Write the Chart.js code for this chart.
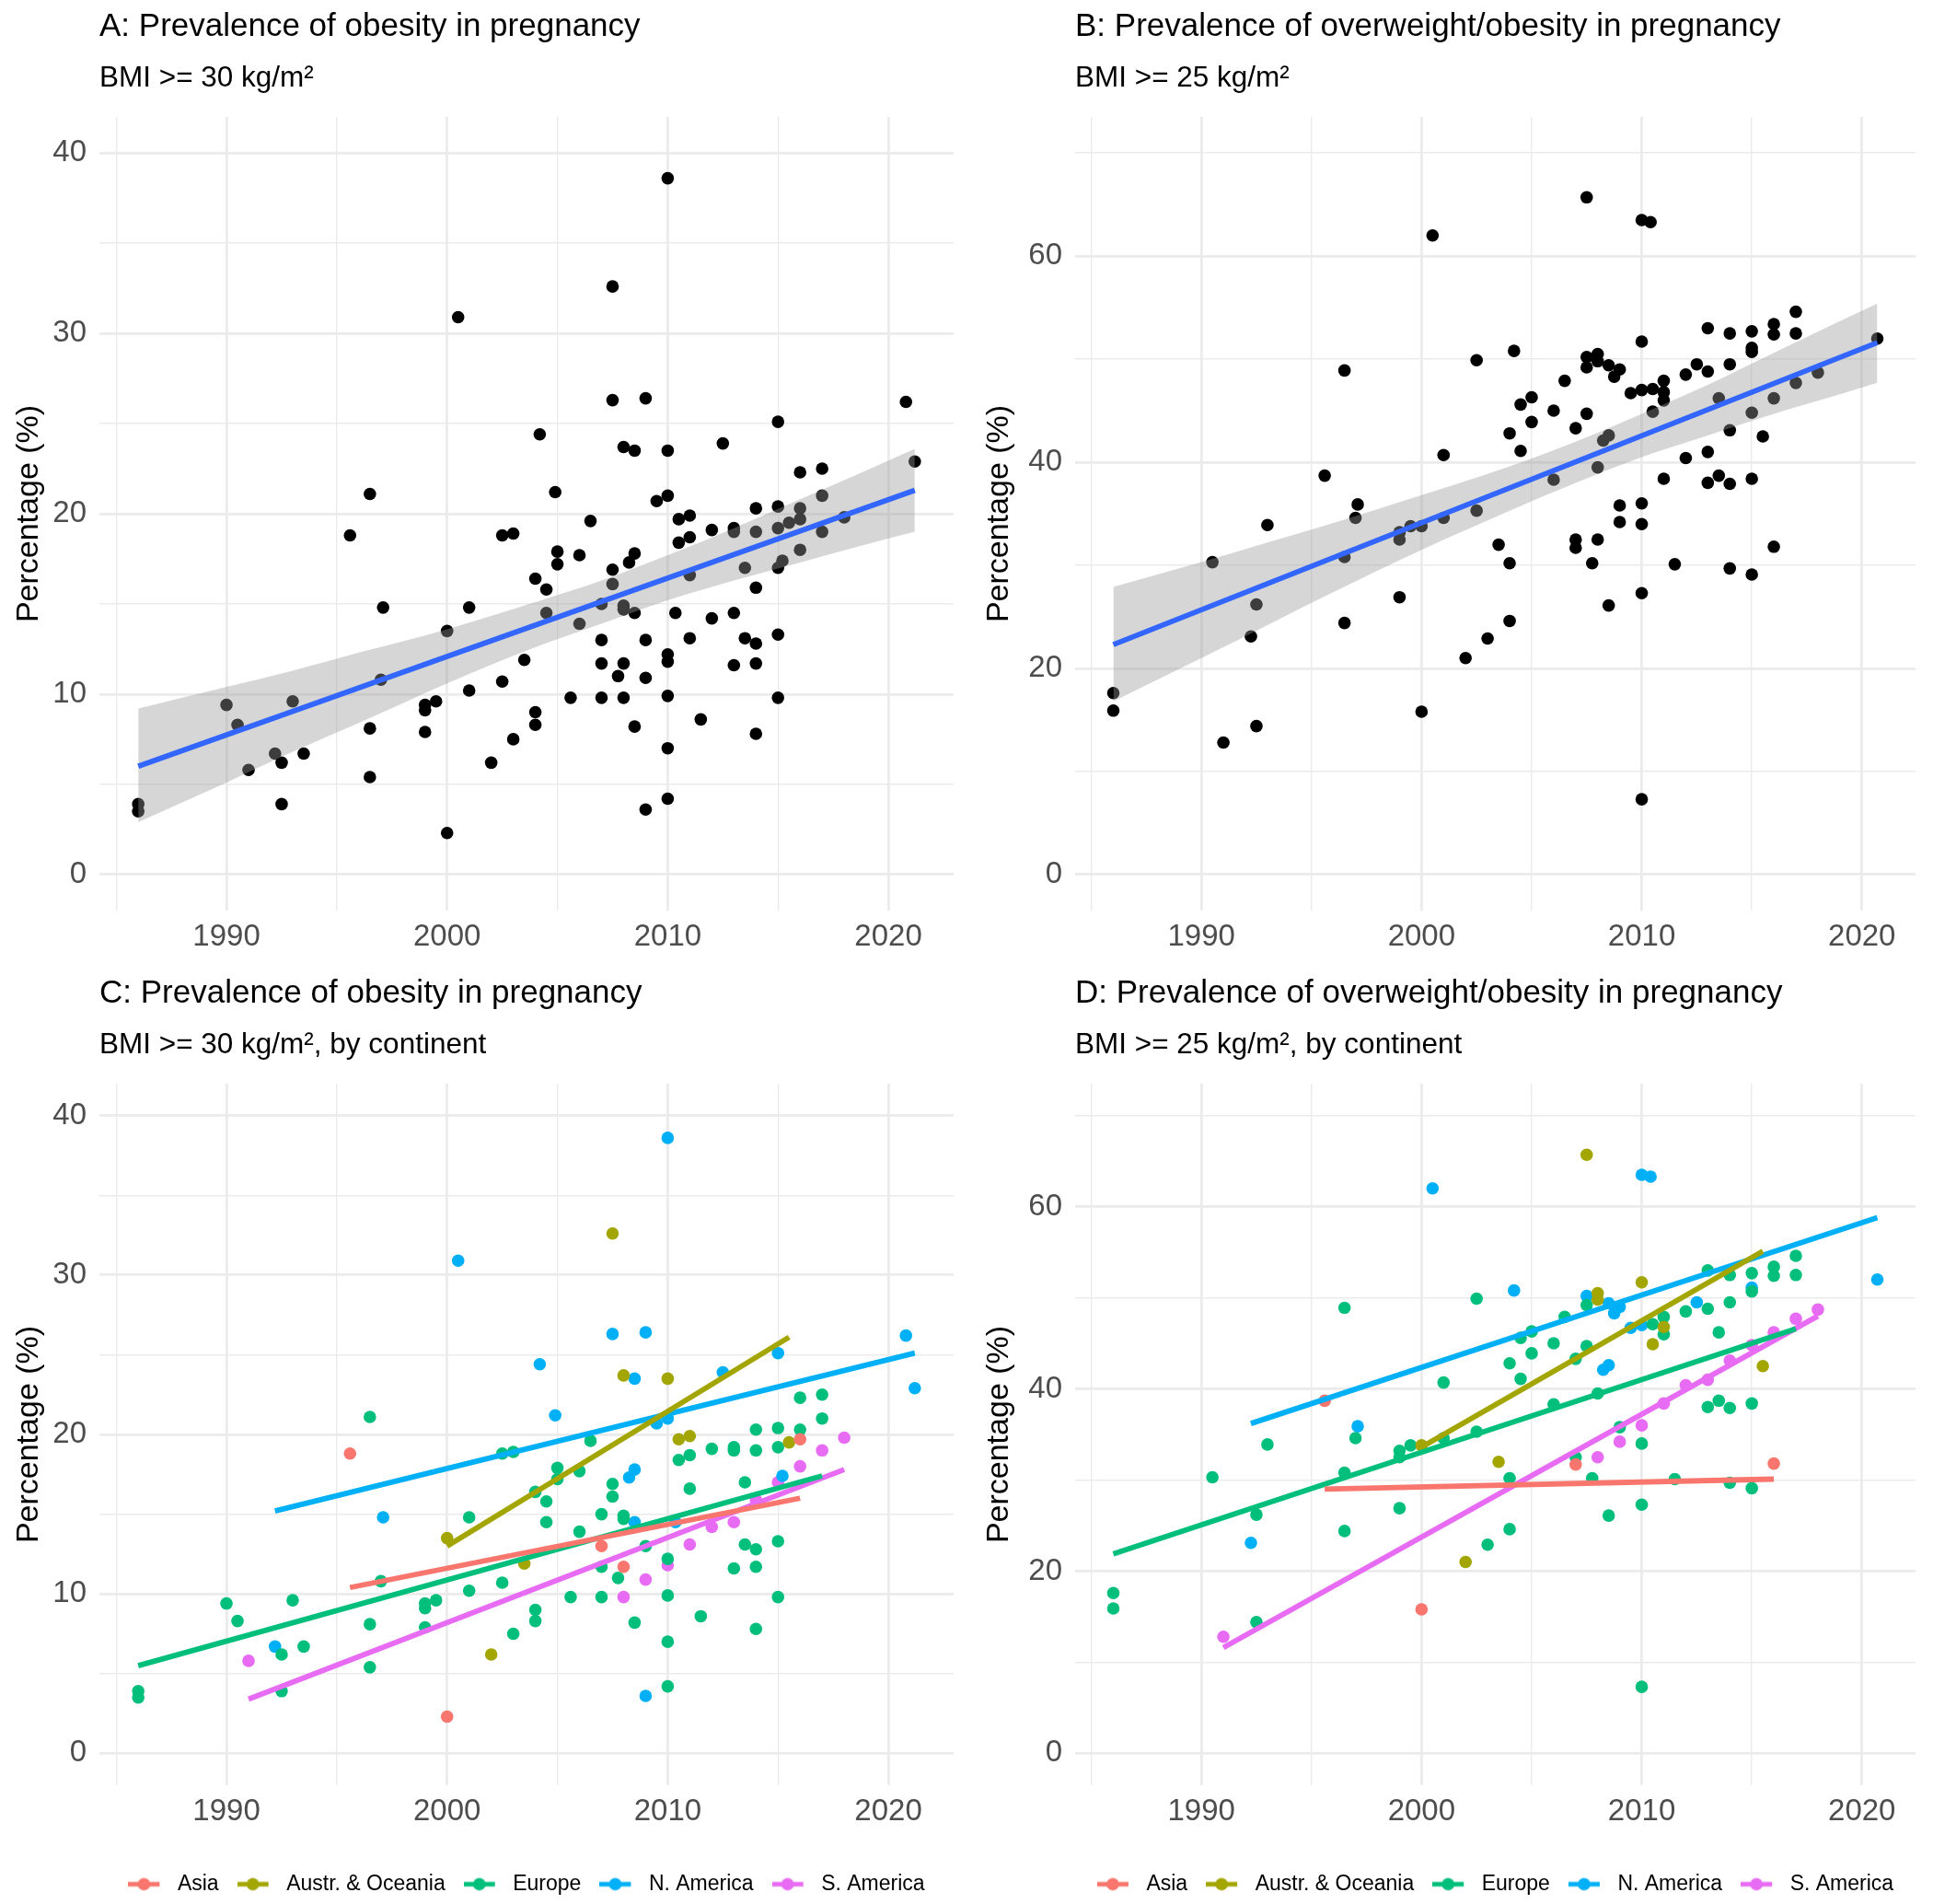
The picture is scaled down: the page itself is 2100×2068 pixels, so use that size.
<!DOCTYPE html>
<html>
<head>
<meta charset="utf-8">
<title>Prevalence of obesity and overweight in pregnancy</title>
<script src="https://cdn.jsdelivr.net/npm/chart.js@4.4.1/dist/chart.umd.min.js"></script>
<style>
  html, body { margin: 0; padding: 0; background: #fff; }
  body { width: 2100px; height: 2068px; position: relative; overflow: hidden; }
  canvas { position: absolute; }
</style>
</head>
<body>
<canvas id="chartA" width="1050" height="1040" style="left:0;top:0"></canvas>
<canvas id="chartB" width="1050" height="1040" style="left:1050px;top:0"></canvas>
<canvas id="chartC" width="1050" height="1028" style="left:0;top:1040px"></canvas>
<canvas id="chartD" width="1050" height="1028" style="left:1050px;top:1040px"></canvas>
<script>
const continents = ["Asia", "Austr. & Oceania", "Europe", "N. America", "S. America"];
const continentColors = ["#F8766D", "#A3A500", "#00BF7D", "#00B0F6", "#E76BF3"];

const xTicks = [1985, 1990, 1995, 2000, 2005, 2010, 2015, 2020];
const obYTicks = [0, 5, 10, 15, 20, 25, 30, 35, 40];
const owYTicks = [0, 10, 20, 30, 40, 50, 60, 70];

// obesity (BMI >= 30), one pair of arrays per continent
const obYearAsia = [1995.6, 2000, 2007, 2008, 2016];
const obPctAsia = [18.8, 2.3, 13.0, 11.7, 19.7];
const obYearOce = [2000, 2002, 2003.5, 2007.5, 2008, 2010, 2010.5, 2011, 2015.5];
const obPctOce = [13.5, 6.2, 11.9, 32.6, 23.7, 23.5, 19.7, 19.9, 19.5];
const obYearEur = [1986, 1986, 1990, 1990.5, 1992.5, 1992.5, 1993, 1993.5, 1996.5, 1996.5, 1996.5, 1997,
  1999, 1999, 1999, 1999.5, 2001, 2001, 2002.5, 2002.5, 2003, 2003, 2004, 2004, 2004, 2004.5, 2004.5,
  2005, 2005, 2005.6, 2006, 2006, 2006.5, 2007, 2007, 2007, 2007.5, 2007.5, 2007.75, 2008, 2008, 2008.5,
  2009, 2010, 2010, 2010, 2010, 2010.5, 2011, 2011, 2011.5, 2012, 2013, 2013, 2013, 2013.5, 2013.5,
  2014, 2014, 2014, 2014, 2014, 2015, 2015, 2015, 2015, 2016, 2016, 2017, 2017];
const obPctEur = [3.9, 3.5, 9.4, 8.3, 6.2, 3.9, 9.6, 6.7, 21.1, 8.1, 5.4, 10.8,
  9.4, 9.1, 7.9, 9.6, 14.8, 10.2, 18.8, 10.7, 18.9, 7.5, 16.4, 9.0, 8.3, 15.8, 14.5,
  17.9, 17.2, 9.8, 17.7, 13.9, 19.6, 15.0, 11.7, 9.8, 16.9, 16.1, 11.0, 14.9, 14.7, 8.2,
  13.0, 12.2, 9.9, 7.0, 4.2, 18.4, 18.7, 16.6, 8.6, 19.1, 19.2, 19.0, 11.6, 17.0, 13.1,
  20.3, 19.0, 12.8, 11.7, 7.8, 20.4, 19.2, 13.3, 9.8, 22.3, 20.3, 22.5, 21.0];
const obYearNam = [1992.2, 1997.1, 2000.5, 2004.2, 2004.9, 2007.5, 2008.25, 2008.5, 2008.5, 2008.5, 2009,
  2009, 2009.5, 2010, 2010, 2010.35, 2012.5, 2015, 2015.2, 2020.8, 2021.2];
const obPctNam = [6.7, 14.8, 30.9, 24.4, 21.2, 26.3, 17.3, 23.5, 17.8, 14.5, 26.4,
  3.6, 20.7, 38.6, 21.0, 14.5, 23.9, 25.1, 17.4, 26.2, 22.9];
const obYearSam = [1991, 2008, 2009, 2010, 2011, 2012, 2013, 2014, 2015, 2016, 2017, 2018];
const obPctSam = [5.8, 9.8, 10.9, 11.8, 13.1, 14.2, 14.5, 15.9, 17.0, 18.0, 19.0, 19.8];

// overweight/obesity (BMI >= 25)
const owYearAsia = [1995.6, 2000, 2007, 2016];
const owPctAsia = [38.7, 15.8, 31.7, 31.8];
const owYearOce = [2000, 2002, 2003.5, 2007.5, 2008, 2008, 2010, 2010.5, 2011, 2015.5];
const owPctOce = [33.8, 21.0, 32.0, 65.7, 50.5, 49.8, 51.7, 44.9, 46.8, 42.5];
const owYearEur = [1986, 1986, 1990.5, 1992.5, 1992.5, 1993, 1996.5, 1996.5, 1996.5, 1997,
  1999, 1999, 1999, 1999.5, 2001, 2001, 2002.5, 2002.5, 2003, 2004, 2004, 2004, 2004.5, 2004.5,
  2005, 2005, 2006, 2006, 2006.5, 2007, 2007, 2007.5, 2007.5, 2007.75, 2008, 2008.5, 2009,
  2010, 2010, 2010, 2010.5, 2011, 2011, 2011.5, 2012, 2013, 2013, 2013, 2013.5, 2013.5,
  2014, 2014, 2014, 2014, 2015, 2015, 2015, 2015, 2016, 2016, 2017, 2017];
const owPctEur = [17.6, 15.9, 30.3, 26.2, 14.4, 33.9, 48.9, 30.8, 24.4, 34.6,
  33.2, 32.5, 26.9, 33.8, 40.7, 34.6, 49.9, 35.3, 22.9, 42.8, 30.2, 24.6, 45.6, 41.1,
  46.3, 43.9, 45.0, 38.3, 47.9, 43.3, 32.5, 49.2, 44.7, 30.2, 39.5, 26.1, 35.8,
  34.0, 27.3, 7.3, 47.1, 47.9, 46.0, 30.1, 48.5, 53.0, 48.8, 38.0, 46.2, 38.7,
  52.5, 49.5, 37.9, 29.7, 52.7, 50.7, 38.4, 29.1, 53.4, 52.4, 54.6, 52.5];
const owYearNam = [1992.25, 1997.1, 2000.5, 2004.2, 2007.5, 2008.25, 2008.5, 2008.5, 2008.75, 2009,
  2009.5, 2010, 2010, 2010.4, 2012.5, 2015, 2020.7];
const owPctNam = [23.1, 35.9, 62.0, 50.8, 50.2, 42.1, 42.6, 49.4, 48.3, 49.0,
  46.7, 63.5, 47.0, 63.3, 49.5, 51.1, 52.0];
const owYearSam = [1991, 2008, 2009, 2010, 2011, 2012, 2013, 2014, 2015, 2016, 2017, 2018];
const owPctSam = [12.8, 32.5, 34.2, 36.0, 38.4, 40.4, 41.0, 43.1, 44.8, 46.2, 47.7, 48.7];

const fitYearA = [1986, 2021.2];
const fitPctA = [6.0, 21.3];
const bandYearA = [1986, 1988, 1990, 1993, 1996, 2000, 2004, 2007, 2010, 2013, 2016, 2019, 2021.2];
const bandLowA = [2.9, 4.0, 5.1, 6.8, 8.4, 10.6, 12.6, 13.9, 15.2, 16.3, 17.3, 18.3, 19.0];
const bandHighA = [9.2, 9.8, 10.4, 11.3, 12.3, 13.6, 15.1, 16.3, 17.7, 19.2, 20.8, 22.4, 23.6];
const fitYearB = [1986, 2020.7];
const fitPctB = [22.3, 51.6];
const bandYearB = [1986, 1988, 1990, 1993, 1996, 2000, 2004, 2007, 2010, 2013, 2016, 2019, 2020.7];
const bandLowB = [16.8, 18.9, 21.0, 24.2, 27.4, 31.5, 35.3, 38.0, 40.5, 42.6, 44.7, 46.6, 47.7];
const bandHighB = [27.9, 29.1, 30.3, 32.2, 34.1, 36.8, 39.6, 42.0, 44.7, 47.5, 50.6, 53.7, 55.4];

const obFitStartYear = [1995.6, 2000, 1986, 1992.2, 1991];
const obFitStartPct = [10.4, 13.0, 5.5, 15.2, 3.4];
const obFitEndYear = [2016, 2015.5, 2017, 2021.2, 2018];
const obFitEndPct = [16.0, 26.1, 17.4, 25.1, 17.8];
const owFitStartYear = [1995.6, 2000, 1986, 1992.25, 1991];
const owFitStartPct = [29.0, 33.6, 21.9, 36.2, 11.6];
const owFitEndYear = [2016, 2015.5, 2017, 2020.7, 2018];
const owFitEndPct = [30.1, 55.1, 46.6, 58.8, 48.0];

const obYears = [obYearAsia, obYearOce, obYearEur, obYearNam, obYearSam];
const obPcts = [obPctAsia, obPctOce, obPctEur, obPctNam, obPctSam];
const owYears = [owYearAsia, owYearOce, owYearEur, owYearNam, owYearSam];
const owPcts = [owPctAsia, owPctOce, owPctEur, owPctNam, owPctSam];

const FONT = "'Liberation Sans', Arial, Helvetica, sans-serif";
const LEGEND_FONT = 23;
const LEGEND_PAD = 20;
const LEGEND_H = LEGEND_FONT + LEGEND_PAD + 10; // what Chart.js gives a one-row legend
const POINT_R = 6.8;
const FIT_W = 5.8;

function toPoints(xs, ys) {
  return xs.map((x, i) => ({ x: x, y: ys[i] }));
}

function paddedRange(values) {
  const lo = Math.min(...values), hi = Math.max(...values);
  const pad = (hi - lo) * 0.05;
  return [lo - pad, hi + pad];
}

// legend key: line with a dot, like the ggplot key
function legendKey(color) {
  const c = document.createElement("canvas");
  c.width = 42; c.height = 20;
  const g = c.getContext("2d");
  g.strokeStyle = color;
  g.lineWidth = 5;
  g.beginPath(); g.moveTo(0, 10); g.lineTo(34, 10); g.stroke();
  g.fillStyle = color;
  g.beginPath(); g.arc(17, 10, 6.8, 0, Math.PI * 2); g.fill();
  return c;
}

function makePanel(id, cfg) {
  const W = 1050, H = cfg.height, area = cfg.area;
  const allYears = [].concat(...cfg.years);
  const xr = paddedRange(allYears);
  const yr = paddedRange(cfg.yTicks);
  const major = cfg.yMajor;

  const legend = cfg.legend ? {
    display: true,
    position: "bottom",
    fullSize: false,
    align: "center",
    labels: {
      usePointStyle: true,
      pointStyleWidth: 42,
      padding: LEGEND_PAD,
      color: "#000",
      font: { family: FONT, size: LEGEND_FONT },
      generateLabels: () => continents.map((name, i) => ({
        text: name,
        pointStyle: legendKey(continentColors[i]),
        fillStyle: continentColors[i],
        strokeStyle: continentColors[i],
        lineWidth: 0,
        hidden: false,
        fontColor: "#000",
        datasetIndex: i
      }))
    }
  } : { display: false };

  new Chart(document.getElementById(id), {
    type: "scatter",
    data: { datasets: cfg.datasets },
    options: {
      responsive: false,
      devicePixelRatio: 1,
      animation: false,
      events: [],
      layout: { padding: { left: 0, right: W - area.right, top: area.top - 127, bottom: 0 } },
      plugins: {
        title: {
          display: true, text: cfg.title, align: "start", fullSize: false, color: "#000",
          font: { family: FONT, size: 35, weight: "normal", lineHeight: 1.2 },
          padding: { top: 8.6, bottom: 16.3 }
        },
        subtitle: {
          display: true, text: cfg.subtitle, align: "start", fullSize: false, color: "#000",
          font: { family: FONT, size: 31.5, weight: "normal", lineHeight: 1.2 },
          padding: { top: 0, bottom: 22.3 }
        },
        legend: legend,
        tooltip: { enabled: false }
      },
      scales: {
        x: {
          type: "linear",
          min: xr[0], max: xr[1],
          afterBuildTicks: axis => { axis.ticks = xTicks.map(v => ({ value: v })); },
          afterFit: s => { s.height = H - area.bottom - (cfg.legend ? LEGEND_H : 0); },
          border: { display: false },
          grid: {
            color: "#EBEBEB",
            drawTicks: false,
            lineWidth: c => (c.tick && c.tick.value % 10 === 0) ? 2.8 : 1.4
          },
          ticks: {
            autoSkip: false, maxRotation: 0, minRotation: 0, padding: 9,
            color: "#4D4D4D",
            font: { family: FONT, size: 33 },
            callback: v => (v % 10 === 0 ? String(v) : "")
          }
        },
        y: {
          type: "linear",
          min: yr[0], max: yr[1],
          afterBuildTicks: axis => { axis.ticks = cfg.yTicks.map(v => ({ value: v })); },
          afterFit: s => { s.width = area.left; },
          border: { display: false },
          grid: {
            color: "#EBEBEB",
            drawTicks: false,
            lineWidth: c => (c.tick && c.tick.value % major === 0) ? 2.8 : 1.4
          },
          ticks: {
            autoSkip: false, padding: 14,
            color: "#4D4D4D",
            font: { family: FONT, size: 33 },
            callback: v => (v % major === 0 ? String(v) : "")
          },
          title: {
            display: true, text: "Percentage (%)", color: "#000",
            font: { family: FONT, size: 34 },
            padding: { top: cfg.yTitleX - 20.4, bottom: 0 }
          }
        }
      }
    }
  });
}

function overallDatasets(years, pcts, fitX, fitY, bandX, bandLow, bandHigh) {
  return [
    {
      label: "studies",
      data: toPoints([].concat(...years), [].concat(...pcts)),
      backgroundColor: "#000", pointRadius: POINT_R, borderWidth: 0, order: 3
    },
    {
      type: "line", label: "upper",
      data: toPoints(bandX, bandHigh),
      borderColor: "transparent", pointRadius: 0, fill: false,
      cubicInterpolationMode: "monotone", order: 2
    },
    {
      type: "line", label: "lower",
      data: toPoints(bandX, bandLow),
      borderColor: "transparent", pointRadius: 0,
      fill: "-1", backgroundColor: "rgba(153,153,153,0.4)",
      cubicInterpolationMode: "monotone", order: 2
    },
    {
      type: "line", label: "fit",
      data: toPoints(fitX, fitY),
      borderColor: "#3366FF", borderWidth: FIT_W, pointRadius: 0, fill: false, order: 1
    }
  ];
}

function continentDatasets(years, pcts, x0, y0, x1, y1) {
  const pts = continents.map((name, i) => ({
    label: name,
    data: toPoints(years[i], pcts[i]),
    backgroundColor: continentColors[i], pointRadius: POINT_R, borderWidth: 0, order: 2
  }));
  const lines = continents.map((name, i) => ({
    type: "line", label: name + " fit",
    data: toPoints([x0[i], x1[i]], [y0[i], y1[i]]),
    borderColor: continentColors[i], borderWidth: FIT_W, pointRadius: 0, fill: false, order: 1
  }));
  return pts.concat(lines);
}

makePanel("chartA", {
  height: 1040,
  area: { left: 108, right: 1036, top: 127, bottom: 989 },
  yTitleX: 32,
  title: "A: Prevalence of obesity in pregnancy",
  subtitle: "BMI >= 30 kg/m\u00B2",
  years: obYears, yTicks: obYTicks, yMajor: 10, legend: false,
  datasets: overallDatasets(obYears, obPcts, fitYearA, fitPctA, bandYearA, bandLowA, bandHighA)
});

makePanel("chartB", {
  height: 1040,
  area: { left: 118, right: 1031, top: 127, bottom: 989 },
  yTitleX: 36,
  title: "B: Prevalence of overweight/obesity in pregnancy",
  subtitle: "BMI >= 25 kg/m\u00B2",
  years: owYears, yTicks: owYTicks, yMajor: 20, legend: false,
  datasets: overallDatasets(owYears, owPcts, fitYearB, fitPctB, bandYearB, bandLowB, bandHighB)
});

makePanel("chartC", {
  height: 1028,
  area: { left: 108, right: 1036, top: 137, bottom: 899 },
  yTitleX: 32,
  title: "C: Prevalence of obesity in pregnancy",
  subtitle: "BMI >= 30 kg/m\u00B2, by continent",
  years: obYears, yTicks: obYTicks, yMajor: 10, legend: true,
  datasets: continentDatasets(obYears, obPcts, obFitStartYear, obFitStartPct, obFitEndYear, obFitEndPct)
});

makePanel("chartD", {
  height: 1028,
  area: { left: 118, right: 1031, top: 137, bottom: 899 },
  yTitleX: 36,
  title: "D: Prevalence of overweight/obesity in pregnancy",
  subtitle: "BMI >= 25 kg/m\u00B2, by continent",
  years: owYears, yTicks: owYTicks, yMajor: 20, legend: true,
  datasets: continentDatasets(owYears, owPcts, owFitStartYear, owFitStartPct, owFitEndYear, owFitEndPct)
});
</script>
</body>
</html>
